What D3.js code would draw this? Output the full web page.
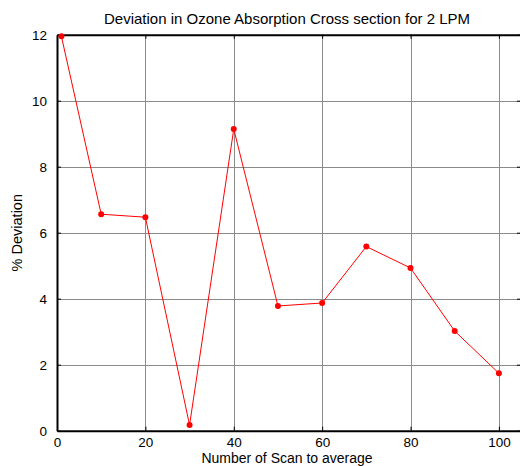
<!DOCTYPE html>
<html>
<head>
<meta charset="utf-8">
<script src="https://cdn.jsdelivr.net/npm/d3@7"></script>
<style>
  html, body { margin: 0; padding: 0; background: #fff; }
  svg { display: block; font-family: "Liberation Sans", Arial, sans-serif; }
</style>
</head>
<body>
<script>
const scans = [1, 10, 20, 30, 40, 50, 60, 70, 80, 90, 100];
const deviation = [11.95, 6.56, 6.47, 0.17, 9.14, 3.78, 3.87, 5.58, 4.93, 3.02, 1.74];
const xTicks = [0, 20, 40, 60, 80, 100];
const yTicks = [0, 2, 4, 6, 8, 10, 12];
const title = "Deviation in Ozone Absorption Cross section for 2 LPM";
const xLabel = "Number of Scan to average";
const yLabel = "% Deviation";

const W = 520, H = 466;
const m = { left: 57, right: 521, top: 34.7, bottom: 430.7 };

const svg = d3.select("body").append("svg").attr("width", W).attr("height", H);

const x = d3.scaleLinear().domain([0, 105]).range([m.left, m.right]);
const y = d3.scaleLinear().domain([0, 12]).range([m.bottom, m.top]);

// grid
const grid = svg.append("g").attr("stroke", "#8a8a8a").attr("stroke-width", 1);
grid.selectAll("line.v").data(xTicks.filter(d => d > 0)).enter().append("line")
  .attr("x1", d => Math.round(x(d)) + 0.5).attr("x2", d => Math.round(x(d)) + 0.5)
  .attr("y1", m.top).attr("y2", m.bottom);
grid.selectAll("line.h").data(yTicks.filter(d => d > 0 && d < 12)).enter().append("line")
  .attr("y1", d => Math.round(y(d)) + 0.5).attr("y2", d => Math.round(y(d)) + 0.5)
  .attr("x1", m.left).attr("x2", m.right);

// axes with inward ticks
const fs = 13.5;
const bottomAxis = d3.axisBottom(x).tickValues(xTicks).tickSizeInner(-4).tickSizeOuter(0).tickPadding(7);
const gb = svg.append("g").attr("transform", `translate(0,${m.bottom})`).call(bottomAxis);
const topAxis = d3.axisTop(x).tickValues(xTicks).tickSizeInner(-4).tickSizeOuter(0).tickFormat("");
const gt = svg.append("g").attr("transform", `translate(0,${m.top})`).call(topAxis);
const leftAxis = d3.axisLeft(y).tickValues(yTicks).tickSizeInner(-4).tickSizeOuter(0).tickPadding(10);
const gl = svg.append("g").attr("transform", `translate(${m.left},0)`).call(leftAxis);
const rightAxis = d3.axisRight(y).tickValues(yTicks).tickSizeInner(-4).tickSizeOuter(0).tickFormat("");
const gr = svg.append("g").attr("transform", `translate(${m.right},0)`).call(rightAxis);

[gb, gt, gl, gr].forEach(g => {
  g.select(".domain").attr("stroke", "#000").attr("stroke-width", 2);
  g.selectAll(".tick line").attr("stroke", "#000").attr("stroke-width", 1);
  g.selectAll("text").attr("font-size", fs).attr("fill", "#000")
    .attr("font-family", "Liberation Sans, Arial, sans-serif");
});

// line + markers
const line = d3.line().x((d, i) => x(scans[i])).y(d => y(d));
svg.append("path").datum(deviation).attr("d", line)
  .attr("fill", "none").attr("stroke", "#ff0000").attr("stroke-width", 1);
svg.selectAll("circle.pt").data(deviation).enter().append("circle")
  .attr("cx", (d, i) => x(scans[i])).attr("cy", d => y(d)).attr("r", 3)
  .attr("fill", "#ff0000");

// texts
svg.append("text").attr("x", 287).attr("y", 24).attr("text-anchor", "middle")
  .attr("font-size", 15).text(title);
svg.append("text").attr("x", 287).attr("y", 463).attr("text-anchor", "middle")
  .attr("font-size", 14).text(xLabel);
svg.append("text").attr("transform", `translate(22,${(m.top + m.bottom) / 2}) rotate(-90)`)
  .attr("text-anchor", "middle").attr("font-size", 14.5).text(yLabel);
</script>
</body>
</html>
